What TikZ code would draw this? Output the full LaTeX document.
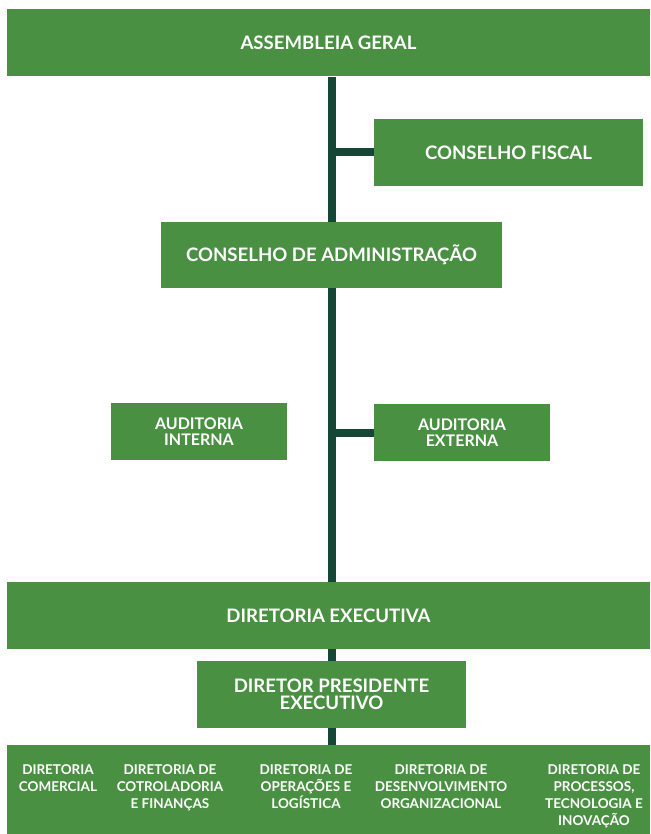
\documentclass[tikz,border=0pt]{standalone}
\usepackage{fontspec}
\setmainfont{Lato}
\usetikzlibrary{
  backgrounds
}

\definecolor{boxgreen}{RGB}{74,144,66}
\definecolor{trunkgreen}{RGB}{22,71,54}

\begin{document}
\begin{tikzpicture}[x=1pt, y=-1pt,
  box/.style = {shape=rectangle, fill=boxgreen, text=white,
    align=center, inner sep=0pt,
    font=\bfseries\fontsize{18.6}{17}\selectfont},
  audit/.style = {box, minimum width=176pt, minimum height=57pt,
    font=\bfseries\fontsize{16}{16}\selectfont},
  dirlabel/.style = {text=white, align=center, inner sep=0pt,
    anchor=north, font=\bfseries\fontsize{13.5}{17}\selectfont},
  trunk/.style = {draw=trunkgreen, line width=8pt}]
  \useasboundingbox (0,0) rectangle (650,834);
  \node[box, minimum width=643pt, minimum height=67pt] (ag) at (328.5,43) {ASSEMBLEIA GERAL};
  \node[box, minimum width=269pt, minimum height=67pt] (cf) at (508.5,152.5) {CONSELHO FISCAL};
  \node[box, minimum width=341pt, minimum height=66pt] (ca) at (331.5,255) {CONSELHO DE ADMINISTRAÇÃO};
  \node[audit] (ai) at (199,431.5) {AUDITORIA\\INTERNA};
  \node[audit] (ae) at (462,432.5) {AUDITORIA\\EXTERNA};
  \node[box, minimum width=643pt, minimum height=67pt] (de) at (328.5,615.5) {DIRETORIA EXECUTIVA};
  \node[box, minimum width=269pt, minimum height=67pt] (dp) at (331.5,694) {DIRETOR PRESIDENTE\\EXECUTIVO};
  \node[box, minimum width=643pt, minimum height=89pt] (band) at (328.5,789.5) {};
  \node[dirlabel] (com) at (58,764) {DIRETORIA\\COMERCIAL};
  \node[dirlabel] (fin) at (170,764) {DIRETORIA DE\\COTROLADORIA\\E FINANÇAS};
  \node[dirlabel] (ope) at (306,764) {DIRETORIA DE\\OPERAÇÕES E\\LOGÍSTICA};
  \node[dirlabel] (dev) at (441,764) {DIRETORIA DE\\DESENVOLVIMENTO\\ORGANIZACIONAL};
  \node[dirlabel] (pro) at (594,764) {DIRETORIA DE\\PROCESSOS,\\TECNOLOGIA E\\INOVAÇÃO};
  \begin{scope}[on background layer]
    \draw[trunk] (ca.center |- ag.south) -- (ca.center |- band.north);
    \draw[trunk] (ca.center |- cf.west) -- (cf.west);
    \draw[trunk] (ca.center |- ae.west) -- (ae.west);
  \end{scope}
\end{tikzpicture}
\end{document}
